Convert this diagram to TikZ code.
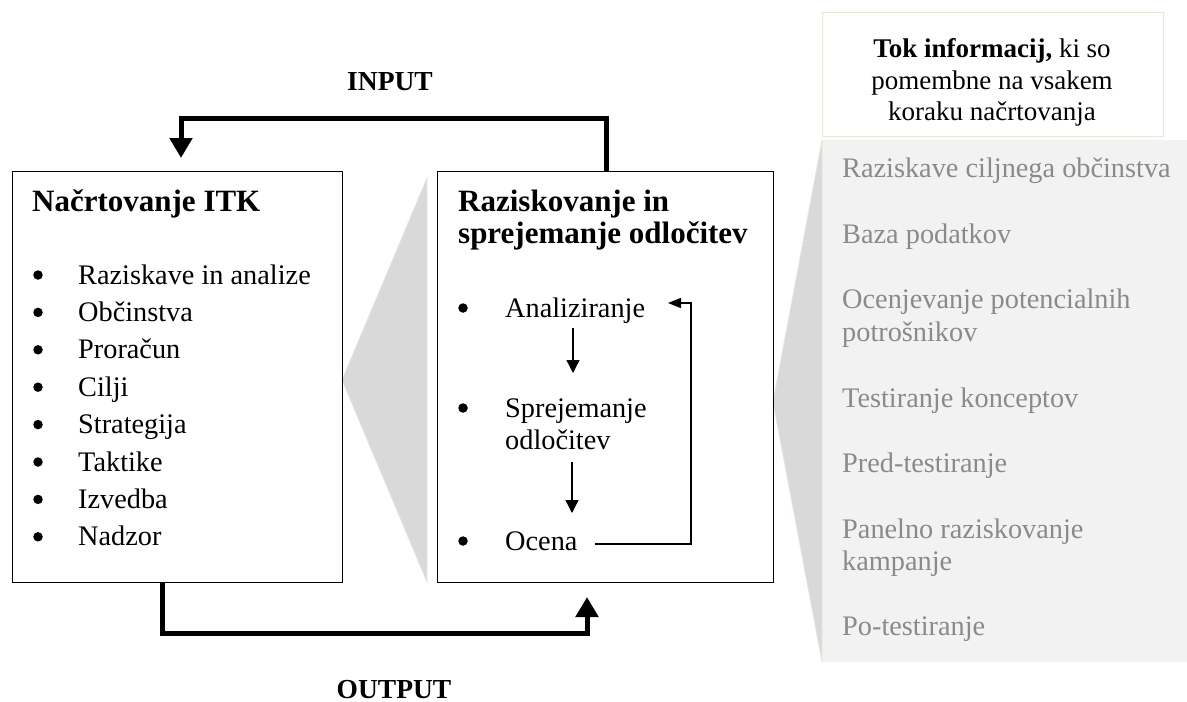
\documentclass[tikz,border=0pt]{standalone}
\usepackage{fontspec}
\setmainfont{Liberation Serif}
\usetikzlibrary{arrows.meta}
\definecolor{panelgray}{HTML}{F2F2F2}
\definecolor{tridark}{HTML}{D9D9D9}
\definecolor{beige}{HTML}{E9E6DA}
\definecolor{txtgray}{HTML}{8A8A8A}
\begin{document}
\begin{tikzpicture}[x=1pt,y=-1pt,
  body/.style={font=\fontsize{28.3}{32}\selectfont, inner sep=0pt, anchor=base west},
  bul/.style={circle, fill=black, inner sep=0pt, minimum size=9.5pt},
  ttl/.style={font=\fontsize{31}{34}\selectfont\bfseries, inner sep=0pt, anchor=base west},
  lbl/.style={font=\fontsize{27.5}{30}\selectfont\bfseries, inner sep=0pt, anchor=base},
  grayitem/.style={body, text=txtgray},
  tokline/.style={font=\fontsize{27}{30}\selectfont, inner sep=0pt, anchor=base},
  box/.style={draw, line width=1.3pt, fill=white, inner sep=0pt, anchor=north west},
  big/.style={line width=5pt, line join=miter, -{Triangle[width=22pt,length=20pt]}},
  small/.style={line width=1.3pt, -{Triangle[width=13pt,length=13pt]}},
  tri/.style={fill=tridark, draw=beige, line width=0.8pt}]
\useasboundingbox (0,0) rectangle (1187,702);

% right information panel
\fill[panelgray] (822,140) rectangle (1187,662);
\filldraw[tri] (773,402) -- (822,140) -- (822,662) -- cycle;
% middle triangle
\filldraw[tri] (342,380) -- (427,178) -- (427,582) -- cycle;

% boxes
\node[box, minimum width=330pt, minimum height=411pt] (L) at (12,171) {};
\node[box, minimum width=336pt, minimum height=411pt] (R) at (437,171) {};
\node[draw=beige, line width=1pt, fill=white, inner sep=0pt, anchor=north west,
      minimum width=341pt, minimum height=124pt] (T) at (822,12) {};

% Tok informacij
\node[tokline] (t1) at (992,57) {\textbf{Tok informacij,} ki so};
\node[tokline] (t2) at (992,89) {pomembne na vsakem};
\node[tokline] (t3) at (992,120) {koraku načrtovanja};

% left box content
\node[ttl] (Lt) at (32,211) {Načrtovanje ITK};
\foreach \i/\t in {0/Raziskave in analize,1/Občinstva,2/Proračun,3/Cilji,4/Strategija,5/Taktike,6/Izvedba,7/Nadzor}{
  \node[bul] (Lb\i) at (38,275+37.4*\i) {};
  \node[body] (Li\i) at (78,284+37.4*\i) {\t};
}

% right box content
\node[ttl] (Rt1) at (458,211) {Raziskovanje in};
\node[ttl] (Rt2) at (458,243) {sprejemanje odločitev};
\node[bul] (Rb1) at (463,308) {};
\node[body] (Ra) at (505,317) {Analiziranje};
\node[bul] (Rb2) at (463,408) {};
\node[body] (Rs1) at (505,417) {Sprejemanje};
\node[body] (Rs2) at (505,449) {odločitev};
\node[bul] (Rb3) at (463,541) {};
\node[body] (Ro) at (505,550) {Ocena};

\coordinate (a1s) at (573,328);
\coordinate (a1e) at (573,373);
\coordinate (a2s) at (572,462);
\coordinate (a2e) at (572,513);
\draw[small] (a1s) -- (a1e);
\draw[small] (a2s) -- (a2e);
\coordinate (fbS) at (595,544);
\coordinate (fbC) at (691,303);
\coordinate (fbE) at (668,303);
\draw[line width=1.3pt, line join=miter, -{Triangle[width=10pt,length=13pt]}] (fbS) -| (fbC) -- (fbE);

% gray items
\node[grayitem] (g1) at (842,177) {Raziskave ciljnega občinstva};
\node[grayitem] (g2) at (842,243) {Baza podatkov};
\node[grayitem] (g3) at (842,308) {Ocenjevanje potencialnih};
\node[grayitem] (g3b) at (842,341) {potrošnikov};
\node[grayitem] (g4) at (842,407) {Testiranje konceptov};
\node[grayitem] (g5) at (842,472) {Pred-testiranje};
\node[grayitem] (g6) at (842,538) {Panelno raziskovanje};
\node[grayitem] (g6b) at (842,570) {kampanje};
\node[grayitem] (g7) at (842,635) {Po-testiranje};

% INPUT / OUTPUT
\node[lbl] (inp) at (390,90) {INPUT};
\node[lbl] (outp) at (394,698) {OUTPUT};

\coordinate (in1) at (606,118);
\coordinate (in2) at (181,118);
\coordinate (inE) at (181,158);
\draw[big] (R.north -| in1) -- (in1) -- (in2) -- (inE);

\coordinate (o1) at (162.5,633);
\coordinate (o2) at (587,633);
\coordinate (oE) at (587,597);
\draw[big] (L.south -| o1) -- (o1) -- (o2) -- (oE);
\end{tikzpicture}
\end{document}
